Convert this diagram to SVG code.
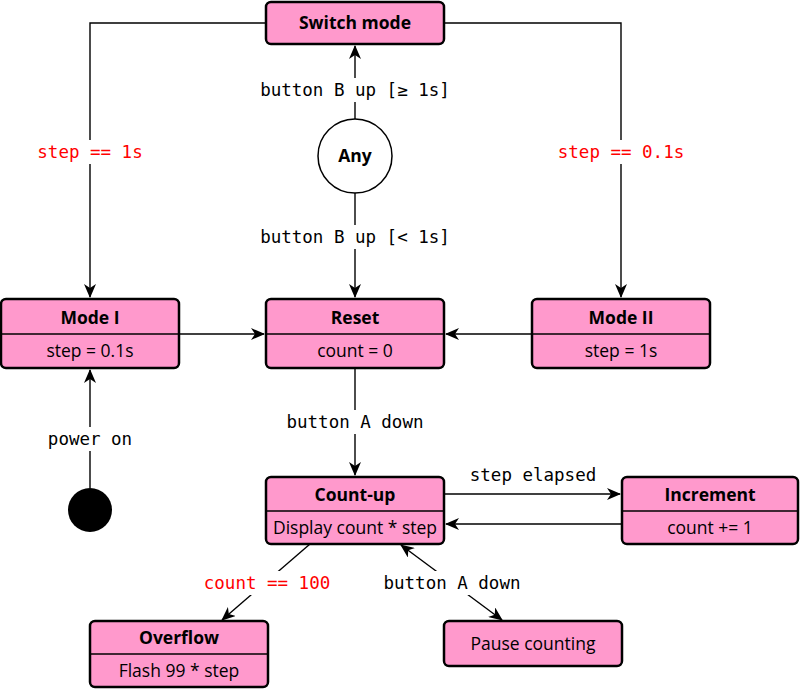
<svg xmlns="http://www.w3.org/2000/svg" width="800" height="689" viewBox="0 0 800 689">
<style>
.box{fill:#ff99cc;stroke:#000;stroke-width:2.5}
.div{stroke:#000;stroke-width:1.3}
.t{font-family:"Open Sans","Lato",sans-serif;font-weight:bold;font-size:17.5px;text-anchor:middle;fill:#000}
.b{font-family:"Open Sans","Lato",sans-serif;font-size:17.5px;text-anchor:middle;fill:#000}
.e{fill:none;stroke:#000;stroke-width:1.4}
.l{font-family:"DejaVu Sans Mono",monospace;font-size:17.5px;text-anchor:middle;fill:#000}
.r{fill:#ff0000}
.bg{fill:#fff}
</style>
<defs>
<marker id="a" viewBox="0 0 14 12" refX="13" refY="6" markerWidth="14" markerHeight="12" markerUnits="userSpaceOnUse" orient="auto-start-reverse">
<path d="M0,0 L14,6 L0,12 L4,6 Z" fill="#000"/>
</marker>
</defs>
<rect width="800" height="689" fill="#fff"/>
<g id="connectors">
<path class="e" d="M266,23 H90 V297" marker-end="url(#a)"/>
<path class="e" d="M444,23 H621 V297" marker-end="url(#a)"/>
<path class="e" d="M355,119 V46" marker-end="url(#a)"/>
<path class="e" d="M355,193 V297" marker-end="url(#a)"/>
<path class="e" d="M179,334 H264" marker-end="url(#a)"/>
<path class="e" d="M532,334 H446" marker-end="url(#a)"/>
<path class="e" d="M355,368 V475" marker-end="url(#a)"/>
<path class="e" d="M90,488 V370" marker-end="url(#a)"/>
<path class="e" d="M444,494 H620" marker-end="url(#a)"/>
<path class="e" d="M622,524 H446" marker-end="url(#a)"/>
<path class="e" d="M310,544 L222,620" marker-end="url(#a)"/>
<path class="e" d="M401,545 L502,620" marker-start="url(#a)" marker-end="url(#a)"/>
<rect class="bg" x="26" y="140" width="128" height="24"/>
<text class="l r" x="90" y="158">step == 1s</text>
<rect class="bg" x="546" y="140" width="150" height="24"/>
<text class="l r" x="621" y="158">step == 0.1s</text>
<rect class="bg" x="252" y="78" width="206" height="24"/>
<text class="l" x="355" y="96">button B up [≥ 1s]</text>
<rect class="bg" x="252" y="225" width="206" height="24"/>
<text class="l" x="355" y="243">button B up [&lt; 1s]</text>
<rect class="bg" x="280" y="410" width="150" height="24"/>
<text class="l" x="355" y="428">button A down</text>
<rect class="bg" x="42" y="427" width="96" height="24"/>
<text class="l" x="90" y="445">power on</text>
<text class="l" x="533" y="481">step elapsed</text>
<rect class="bg" x="195" y="571" width="144" height="24"/>
<text class="l r" x="267" y="589">count == 100</text>
<rect class="bg" x="376" y="571" width="150" height="24"/>
<text class="l" x="452" y="589">button A down</text>
</g>
<g id="switch-mode">
<rect class="box" x="266" y="2" width="178" height="42" rx="5"/>
<text class="t" x="355" y="29">Switch mode</text>
</g>
<g id="any">
<circle cx="355" cy="156" r="37" fill="#fff" stroke="#000" stroke-width="1.5"/>
<text class="t" x="355" y="162">Any</text>
</g>
<g id="mode-1">
<rect class="box" x="1" y="299" width="178" height="69" rx="5"/>
<line class="div" x1="1" y1="334" x2="179" y2="334"/>
<text class="t" x="90" y="324">Mode I</text>
<text class="b" x="90" y="357">step = 0.1s</text>
</g>
<g id="reset">
<rect class="box" x="266" y="299" width="178" height="69" rx="5"/>
<line class="div" x1="266" y1="334" x2="444" y2="334"/>
<text class="t" x="355" y="324">Reset</text>
<text class="b" x="355" y="357">count = 0</text>
</g>
<g id="mode-2">
<rect class="box" x="532" y="299" width="178" height="69" rx="5"/>
<line class="div" x1="532" y1="334" x2="710" y2="334"/>
<text class="t" x="621" y="324">Mode II</text>
<text class="b" x="621" y="357">step = 1s</text>
</g>
<g id="initial">
<circle cx="90" cy="510" r="22" fill="#000"/>
</g>
<g id="count-up">
<rect class="box" x="266" y="477" width="178" height="67" rx="5"/>
<line class="div" x1="266" y1="511" x2="444" y2="511"/>
<text class="t" x="355" y="501">Count-up</text>
<text class="b" x="355" y="534">Display count * step</text>
</g>
<g id="increment">
<rect class="box" x="622" y="477" width="176" height="67" rx="5"/>
<line class="div" x1="622" y1="511" x2="798" y2="511"/>
<text class="t" x="710" y="501">Increment</text>
<text class="b" x="710" y="534">count += 1</text>
</g>
<g id="overflow">
<rect class="box" x="90" y="621" width="178" height="66" rx="5"/>
<line class="div" x1="90" y1="654" x2="268" y2="654"/>
<text class="t" x="179" y="644">Overflow</text>
<text class="b" x="179" y="677">Flash 99 * step</text>
</g>
<g id="pause">
<rect class="box" x="444" y="621" width="178" height="45" rx="5"/>
<text class="b" x="533" y="650">Pause counting</text>
</g>
</svg>
